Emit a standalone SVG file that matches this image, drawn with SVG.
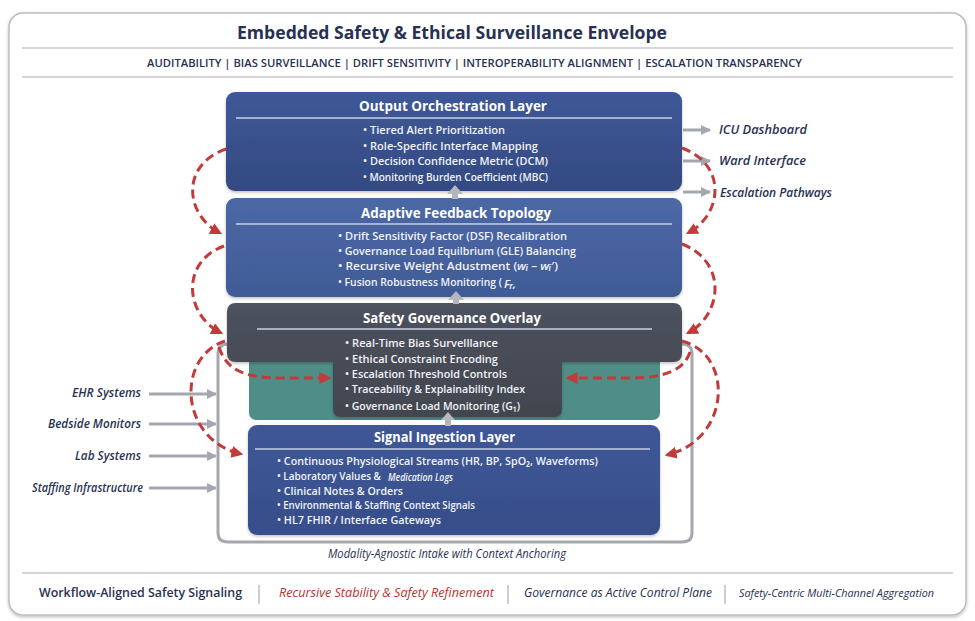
<svg xmlns="http://www.w3.org/2000/svg" width="975" height="621" viewBox="0 0 975 621">
<style>
.f{font-family:"Open Sans","Liberation Sans","DejaVu Sans",sans-serif}
.hd{font-weight:700;fill:#283152}
.sub{font-weight:600;fill:#283152;font-size:11px}
.bt{font-weight:700;fill:#ffffff;font-size:14.5px}
.bl{font-weight:600;fill:#f1f3f9;font-size:11.5px}
.io{font-style:italic;font-weight:600;fill:#283152;font-size:12.5px}
.ft{font-size:12.5px}
.sep{stroke:#c9d0e4;stroke-width:1.5}
.rule{stroke:#a9adb6;stroke-width:1.2}
.red{fill:none;stroke:#c23a3a;stroke-width:3;stroke-dasharray:9 5}
.gar{fill:none;stroke:#a4a7ae;stroke-width:3}
.up{fill:#b4b7be}
</style>
<defs>
<marker id="ra" viewBox="0 0 10 10" refX="8" refY="5" markerWidth="4" markerHeight="4" orient="auto" markerUnits="strokeWidth"><path d="M0,0 L10,5 L0,10 z" fill="#c23a3a"/></marker>
<marker id="ga" viewBox="0 0 10 10" refX="9" refY="5" markerWidth="3.4" markerHeight="3.4" orient="auto" markerUnits="strokeWidth"><path d="M0,0 L10,5 L0,10 z" fill="#a4a7ae"/></marker>
<linearGradient id="gOut" x1="0" y1="0" x2="0" y2="1"><stop offset="0" stop-color="#3f5897"/><stop offset="1" stop-color="#334a82"/></linearGradient>
<linearGradient id="gAd" x1="0" y1="0" x2="0" y2="1"><stop offset="0" stop-color="#4c68a6"/><stop offset="1" stop-color="#405b96"/></linearGradient>
<linearGradient id="gSg" x1="0" y1="0" x2="0" y2="1"><stop offset="0" stop-color="#4d525e"/><stop offset="1" stop-color="#42464f"/></linearGradient>
<linearGradient id="gSi" x1="0" y1="0" x2="0" y2="1"><stop offset="0" stop-color="#3f5797"/><stop offset="1" stop-color="#374e8a"/></linearGradient>
<filter id="sh" x="-5%" y="-5%" width="110%" height="120%"><feDropShadow dx="0" dy="1.5" stdDeviation="1.5" flood-color="#000" flood-opacity="0.25"/></filter>
</defs>
<rect width="975" height="621" fill="#ffffff"/>
<g id="frame">
<rect x="9" y="13" width="957" height="602" rx="14" fill="#ffffff" stroke="#b9bdc5" stroke-width="1.5" filter="url(#sh)"/>
<line class="rule" x1="22" y1="48" x2="953" y2="48"/>
<line class="rule" x1="22" y1="77" x2="953" y2="77"/>
<line class="rule" x1="22" y1="573" x2="953" y2="573"/>
<text class="f hd" x="237" y="39" font-size="17.5" textLength="430" lengthAdjust="spacingAndGlyphs">Embedded Safety &amp; Ethical Surveillance Envelope</text>
<text class="f sub" x="147" y="67" textLength="655" lengthAdjust="spacingAndGlyphs">AUDITABILITY | BIAS SURVEILLANCE | DRIFT SENSITIVITY | INTEROPERABILITY ALIGNMENT | ESCALATION TRANSPARENCY</text>
</g>
<g id="bracket">
<path class="gar" d="M228 344 Q218 344 218 354 L218 533 Q218 542 228 542 L682 542 Q692 542 692 533 L692 354 Q692 344 682 344"/>
<text class="f" x="328" y="558" font-size="12.5" font-style="italic" fill="#283152" textLength="238" lengthAdjust="spacingAndGlyphs">Modality-Agnostic Intake with Context Anchoring</text>
</g>
<g id="teal-band">
<rect x="249" y="350" width="411" height="70" rx="7" fill="#4f8e87"/>
</g>
<g id="signal-ingestion">
<rect x="248" y="425" width="412" height="110" rx="9" fill="url(#gSi)" filter="url(#sh)"/>
<text class="f bt" x="374" y="442" textLength="141" lengthAdjust="spacingAndGlyphs">Signal Ingestion Layer</text>
<line class="sep" x1="255" y1="449" x2="650" y2="449"/>
<text class="f bl" x="277" y="465" textLength="321" lengthAdjust="spacingAndGlyphs">• Continuous Physiological Streams (HR, BP, SpO₂, Waveforms)</text>
<text class="f bl" x="277" y="480" font-size="10.5" textLength="104" lengthAdjust="spacingAndGlyphs">• Laboratory Values &amp;</text>
<text class="f bl" x="388" y="480.5" font-size="10.5" font-style="italic" font-weight="400" textLength="65" lengthAdjust="spacingAndGlyphs">Medication Logs</text>
<text class="f bl" x="277" y="494.5" textLength="126" lengthAdjust="spacingAndGlyphs">• Clinical Notes &amp; Orders</text>
<text class="f bl" x="277" y="509" textLength="198" lengthAdjust="spacingAndGlyphs">• Environmental &amp; Staffing Context Signals</text>
<text class="f bl" x="277" y="524" textLength="164" lengthAdjust="spacingAndGlyphs">• HL7 FHIR / Interface Gateways</text>
</g>
<g id="safety-governance">
<path d="M236 303 H673 Q682 303 682 312 V353 Q682 362 673 362 H562 V409 Q562 417 554 417 H341 Q333 417 333 409 V362 H236 Q227 362 227 353 V312 Q227 303 236 303 Z" fill="url(#gSg)" filter="url(#sh)"/>
<text class="f bt" x="363" y="323" textLength="178" lengthAdjust="spacingAndGlyphs">Safety Governance Overlay</text>
<line class="sep" x1="257" y1="329" x2="652" y2="329"/>
<text class="f bl" x="345" y="347" textLength="153" lengthAdjust="spacingAndGlyphs">• Real-Time Bias Survelllance</text>
<text class="f bl" x="345" y="363" textLength="153" lengthAdjust="spacingAndGlyphs">• Ethical Constraint Encoding</text>
<text class="f bl" x="345" y="378" textLength="162" lengthAdjust="spacingAndGlyphs">• Escalation Threshold Controls</text>
<text class="f bl" x="345" y="393" textLength="180" lengthAdjust="spacingAndGlyphs">• Traceability &amp; Explainability Index</text>
<text class="f bl" x="345" y="410" textLength="175" lengthAdjust="spacingAndGlyphs">• Governance Load Monitoring (G₁)</text>
</g>
<g id="adaptive-feedback">
<rect x="226" y="198" width="456" height="99" rx="9" fill="url(#gAd)" filter="url(#sh)"/>
<text class="f bt" x="361" y="218" textLength="190" lengthAdjust="spacingAndGlyphs">Adaptive Feedback Topology</text>
<line class="sep" x1="236" y1="224" x2="672" y2="224"/>
<text class="f bl" x="338" y="240" textLength="229" lengthAdjust="spacingAndGlyphs">• Drift Sensitivity Factor (DSF) Recalibration</text>
<text class="f bl" x="338" y="255" textLength="238" lengthAdjust="spacingAndGlyphs">• Governance Load Equilbrium (GLE) Balancing</text>
<text class="f bl" x="338" y="270" textLength="220" lengthAdjust="spacingAndGlyphs">• Recursive Weight Adustment (<tspan font-style="italic">wᵢ</tspan> – <tspan font-style="italic">wᵢ</tspan>′)</text>
<text class="f bl" x="338" y="286" font-size="10.3" textLength="164" lengthAdjust="spacingAndGlyphs">• Fusion Robustness Monitoring (</text>
<text class="f bl" x="504" y="287.5" font-size="9.5" font-style="italic">Fᵣ,</text>
</g>
<g id="output-orchestration">
<rect x="226" y="92" width="456" height="99" rx="9" fill="url(#gOut)" filter="url(#sh)"/>
<text class="f bt" x="359" y="111" textLength="188" lengthAdjust="spacingAndGlyphs">Output Orchestration Layer</text>
<line class="sep" x1="236" y1="118" x2="672" y2="118"/>
<text class="f bl" x="363" y="134" textLength="142" lengthAdjust="spacingAndGlyphs">• Tiered Alert Prioritization</text>
<text class="f bl" x="363" y="150" textLength="175" lengthAdjust="spacingAndGlyphs">• Role-Specific Interface Mapping</text>
<text class="f bl" x="363" y="165" textLength="185" lengthAdjust="spacingAndGlyphs">• Decision Confidence Metric (DCM)</text>
<text class="f bl" x="363" y="181" textLength="185" lengthAdjust="spacingAndGlyphs">• Monitoring Burden Coefficient (MBC)</text>
</g>
<g id="inputs">
<text class="f io" x="141" y="397" text-anchor="end" textLength="69" lengthAdjust="spacingAndGlyphs">EHR Systems</text>
<text class="f io" x="141" y="428" text-anchor="end" textLength="93" lengthAdjust="spacingAndGlyphs">Bedside Monitors</text>
<text class="f io" x="141" y="460" text-anchor="end" textLength="66" lengthAdjust="spacingAndGlyphs">Lab Systems</text>
<text class="f io" x="143" y="492" text-anchor="end" textLength="111" lengthAdjust="spacingAndGlyphs">Staffing Infrastructure</text>
</g>
<g id="outputs">
<text class="f io" x="719" y="134" textLength="88" lengthAdjust="spacingAndGlyphs">ICU Dashboard</text>
<text class="f io" x="719" y="165" textLength="87" lengthAdjust="spacingAndGlyphs">Ward Interface</text>
<text class="f io" x="720" y="197" textLength="112" lengthAdjust="spacingAndGlyphs">Escalation Pathways</text>
</g>
<g id="connectors">
<line class="gar" x1="149" y1="394" x2="216" y2="394" marker-end="url(#ga)"/>
<line class="gar" x1="149" y1="424" x2="216" y2="424" marker-end="url(#ga)"/>
<line class="gar" x1="149" y1="456" x2="216" y2="456" marker-end="url(#ga)"/>
<line class="gar" x1="149" y1="488" x2="216" y2="488" marker-end="url(#ga)"/>
<line class="gar" x1="683" y1="130" x2="710" y2="130" marker-end="url(#ga)"/>
<line class="gar" x1="683" y1="161" x2="710" y2="161" marker-end="url(#ga)"/>
<line class="gar" x1="683" y1="192" x2="710" y2="192" marker-end="url(#ga)"/>
<path class="up" d="M455 185 L447 194 L452 194 L452 199 L458 199 L458 194 L463 194 Z"/>
<path class="up" d="M456 291 L448 300 L453 300 L453 304 L459 304 L459 300 L464 300 Z"/>
<path class="up" d="M448 412 L441 420 L445 420 L445 426 L451 426 L451 420 L455 420 Z"/>
<path class="red" d="M226 149 C180 165 185 215 220 233" marker-end="url(#ra)"/>
<path class="red" d="M224 246 C180 262 185 315 221 333" marker-end="url(#ra)"/>
<path class="red" d="M225 341 C175 358 180 440 241 454" marker-end="url(#ra)"/>
<path class="red" d="M219 347 C226 370 245 378 280 378 L329 378" marker-end="url(#ra)"/>
<path class="red" d="M682 148 C728 165 722 215 688 233" marker-end="url(#ra)"/>
<path class="red" d="M682 244 C728 262 722 315 688 333" marker-end="url(#ra)"/>
<path class="red" d="M682 341 C735 355 730 440 667 455" marker-end="url(#ra)"/>
<path class="red" d="M690 352 C684 370 665 378 630 378 L568 378" marker-end="url(#ra)"/>
</g>
<g id="footer">
<text class="f ft" x="39" y="597" font-weight="600" fill="#283152" textLength="203" lengthAdjust="spacingAndGlyphs">Workflow-Aligned Safety Signaling</text>
<line class="rule" x1="259" y1="585" x2="259" y2="604"/>
<text class="f ft" x="279" y="597" font-style="italic" fill="#b8322f" textLength="215" lengthAdjust="spacingAndGlyphs">Recursive Stability &amp; Safety Refinement</text>
<line class="rule" x1="508" y1="585" x2="508" y2="604"/>
<text class="f ft" x="524" y="597" font-style="italic" fill="#283152" textLength="188" lengthAdjust="spacingAndGlyphs">Governance as Active Control Plane</text>
<line class="rule" x1="725" y1="585" x2="725" y2="604"/>
<text class="f" x="739" y="597" font-size="11.5" font-style="italic" fill="#283152" textLength="195" lengthAdjust="spacingAndGlyphs">Safety-Centric Multi-Channel Aggregation</text>
</g>
</svg>
